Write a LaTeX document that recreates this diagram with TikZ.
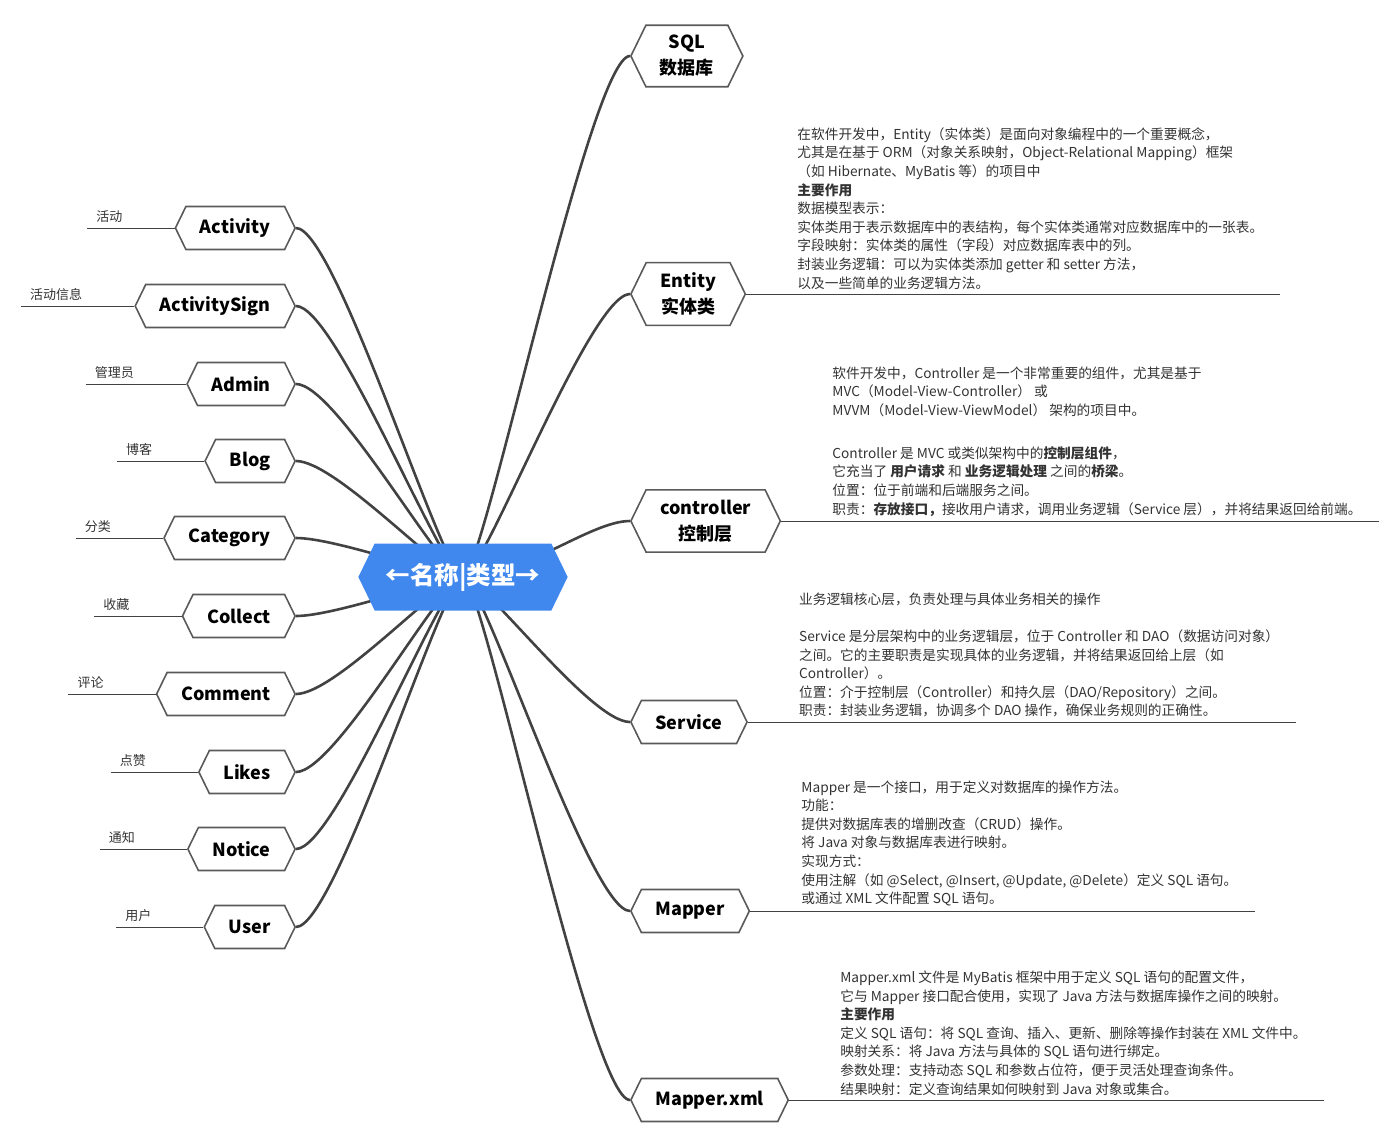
\documentclass[tikz,border=0pt]{standalone}
\usepackage{fontspec}
\setmainfont{Noto Sans CJK SC}
\usetikzlibrary{shapes.symbols}
\usetikzlibrary{backgrounds}
\definecolor{rootblue}{HTML}{4088EE}
\definecolor{branchgray}{HTML}{424242}
\definecolor{boxgray}{HTML}{5A5A5A}
\definecolor{notegray}{HTML}{333333}
\tikzset{
  hexbox/.style={signal, signal to=east and west, signal pointer angle=128,
    draw=boxgray, line width=1.6pt, fill=white, align=center,
    font=\fontsize{18}{26}\selectfont\bfseries,
    minimum height=43pt, inner xsep=14pt, inner ysep=10pt},
  rootbox/.style={hexbox, draw=none, fill=rootblue, text=white, inner xsep=11pt,
    font=\fontsize{24.5}{30}\selectfont\bfseries, minimum height=67pt},
  branch/.style={draw=branchgray, line width=2.6pt},
  tagline/.style={draw=branchgray, line width=0.8pt},
  tag/.style={font=\fontsize{13}{16}\selectfont, text=notegray, anchor=south east,
    inner xsep=9pt, inner ysep=5pt},
  note/.style={font=\fontsize{13.7}{18.6}\selectfont, text=notegray, align=left,
    anchor=south west, inner xsep=17pt, inner ysep=4.5pt},
}
\begin{document}
\begin{tikzpicture}[x=1pt, y=-1pt]
        \useasboundingbox (0,0) rectangle (1394,1141);
        \node[rootbox] (root) at (463,577) {←名称|类型→};
        %%%
        \node[hexbox, anchor=east] (act) at (296,228) {Activity};
        \node[hexbox, anchor=east] (actsign) at (296,306) {ActivitySign};
        \node[hexbox, anchor=east] (admin) at (296,384) {Admin};
        \node[hexbox, anchor=east] (blog) at (296,461) {Blog};
        \node[hexbox, anchor=east] (cat) at (296,538) {Category};
        \node[hexbox, anchor=east] (coll) at (296,616) {Collect};
        \node[hexbox, anchor=east] (comm) at (296,694) {Comment};
        \node[hexbox, anchor=east] (likes) at (296,772) {Likes};
        \node[hexbox, anchor=east] (notice) at (296,849) {Notice};
        \node[hexbox, anchor=east] (user) at (296,927) {User};
        %%%
        \node[tag] (actlbl) at ([xshift=-43pt]act.west) {活动};
        \node[tag] (actsignlbl) at ([xshift=-43pt]actsign.west) {活动信息};
        \node[tag] (adminlbl) at ([xshift=-43pt]admin.west) {管理员};
        \node[tag] (bloglbl) at ([xshift=-43pt]blog.west) {博客};
        \node[tag] (catlbl) at ([xshift=-43pt]cat.west) {分类};
        \node[tag] (colllbl) at ([xshift=-43pt]coll.west) {收藏};
        \node[tag] (commlbl) at ([xshift=-43pt]comm.west) {评论};
        \node[tag] (likeslbl) at ([xshift=-43pt]likes.west) {点赞};
        \node[tag] (noticelbl) at ([xshift=-43pt]notice.west) {通知};
        \node[tag] (userlbl) at ([xshift=-43pt]user.west) {用户};
        \foreach \n in {act, actsign, admin, blog, cat, coll, comm, likes, notice, user}
            \draw[tagline] (\n lbl.south west) -- (\n.west);
        %%%
        \node[hexbox, anchor=west] (sql) at (630,56) {SQL\\数据库};
        \node[hexbox, anchor=west] (ent) at (630,294) {Entity\\实体类};
        \node[hexbox, anchor=west] (ctl) at (630,521) {controller\\控制层};
        \node[hexbox, anchor=west] (svc) at (630,722) {Service};
        \node[hexbox, anchor=west] (map) at (630,911) {Mapper};
        \node[hexbox, anchor=west] (mapx) at (630,1100) {Mapper.xml};
        %%%
        \node[note] (entnote) at ([xshift=34pt]ent.east) {在软件开发中，Entity（实体类）是面向对象编程中的一个重要概念，\\
            尤其是在基于 ORM（对象关系映射，Object-Relational Mapping）框架\\
            （如 Hibernate、MyBatis 等）的项目中\\
            \textbf{主要作用}\\
            数据模型表示：\\
            实体类用于表示数据库中的表结构，每个实体类通常对应数据库中的一张表。\\
            字段映射：实体类的属性（字段）对应数据库表中的列。\\
            封装业务逻辑：可以为实体类添加 getter 和 setter 方法，\\
            以及一些简单的业务逻辑方法。};
        \node[note] (ctlnote) at ([xshift=34pt]ctl.east) {软件开发中，Controller 是一个非常重要的组件，尤其是基于\\
            MVC（Model-View-Controller） 或\\
            MVVM（Model-View-ViewModel） 架构的项目中。\\[24.4pt]
            Controller 是 MVC 或类似架构中的\textbf{控制层组件}，\\
            它充当了 \textbf{用户请求} 和 \textbf{业务逻辑处理} 之间的\textbf{桥梁}。\\
            位置：位于前端和后端服务之间。\\
            职责：\textbf{存放接口，}接收用户请求，调用业务逻辑（Service 层），并将结果返回给前端。};
        \node[note] (svcnote) at ([xshift=34pt]svc.east) {业务逻辑核心层，负责处理与具体业务相关的操作\\[18.6pt]
            Service 是分层架构中的业务逻辑层，位于 Controller 和 DAO（数据访问对象）\\
            之间。它的主要职责是实现具体的业务逻辑，并将结果返回给上层（如\\
            Controller）。\\
            位置：介于控制层（Controller）和持久层（DAO/Repository）之间。\\
            职责：封装业务逻辑，协调多个 DAO 操作，确保业务规则的正确性。};
        \node[note] (mapnote) at ([xshift=34pt]map.east) {Mapper 是一个接口，用于定义对数据库的操作方法。\\
            功能：\\
            提供对数据库表的增删改查（CRUD）操作。\\
            将 Java 对象与数据库表进行映射。\\
            实现方式：\\
            使用注解（如 @Select, @Insert, @Update, @Delete）定义 SQL 语句。\\
            或通过 XML 文件配置 SQL 语句。};
        \node[note] (mapxnote) at ([xshift=34pt]mapx.east) {Mapper.xml 文件是 MyBatis 框架中用于定义 SQL 语句的配置文件，\\
            它与 Mapper 接口配合使用，实现了 Java 方法与数据库操作之间的映射。\\
            \textbf{主要作用}\\
            定义 SQL 语句：将 SQL 查询、插入、更新、删除等操作封装在 XML 文件中。\\
            映射关系：将 Java 方法与具体的 SQL 语句进行绑定。\\
            参数处理：支持动态 SQL 和参数占位符，便于灵活处理查询条件。\\
            结果映射：定义查询结果如何映射到 Java 对象或集合。};
        \foreach \n in {ent, ctl, svc, map, mapx}
            \draw[tagline] (\n.east) -- (\n note.south east);
        %%%
        \begin{scope}[on background layer]
            \foreach \n in {act, actsign, admin, blog, cat, coll, comm, likes, notice, user}
                \draw[branch] (root.center) .. controls +(-20,0) and +(40,0) .. (\n.east);
            \foreach \n in {sql, ent, svc, map, mapx}
                \draw[branch] (root.center) .. controls +(20,0) and +(-40,0) .. (\n.west);
            \draw[branch] (root.center) .. controls +(60,0) and +(-40,0) .. (ctl.west);
        \end{scope}
\end{tikzpicture}
\end{document}
